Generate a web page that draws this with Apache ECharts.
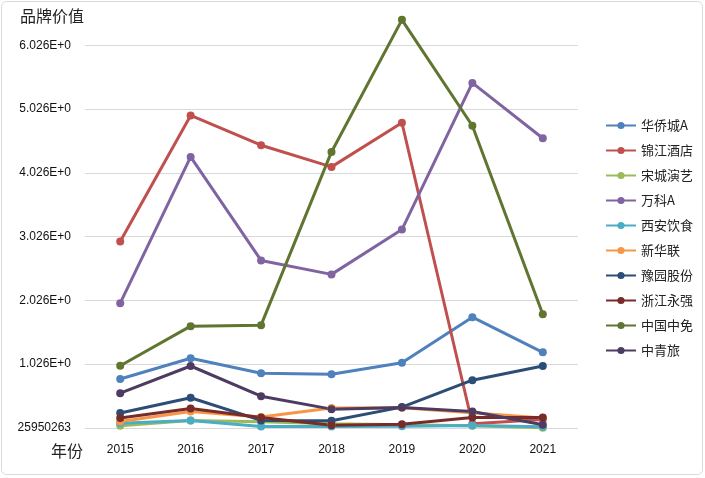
<!DOCTYPE html>
<html><head><meta charset="utf-8">
<script src="https://cdn.jsdelivr.net/npm/echarts@6/dist/echarts.min.js"></script>
<style>html,body{margin:0;padding:0;background:#fff}#c{width:705px;height:478px}</style>
</head><body><div id="c"></div>
<script>
// Values in units of 1E+9
const years = ['2015','2016','2017','2018','2019','2020','2021'];
const names = ['华侨城A','锦江酒店','宋城演艺','万科A','西安饮食','新华联','豫园股份','浙江永强','中国中免','中青旅'];
const hqc  = [0.796, 1.120, 0.885, 0.870, 1.051, 1.765, 1.213];
const jj   = [2.953, 4.932, 4.464, 4.124, 4.817, 0.093, 0.160];
const scyy = [0.062, 0.145, 0.125, 0.093, 0.078, 0.062, 0.030];
const wk   = [1.985, 4.281, 2.656, 2.437, 3.140, 5.442, 4.573];
const xays = [0.100, 0.145, 0.050, 0.050, 0.052, 0.067, 0.046];
const xhl  = [0.129, 0.286, 0.200, 0.340, 0.345, 0.265, 0.182];
const yygf = [0.260, 0.500, 0.145, 0.140, 0.354, 0.776, 0.999];
const zjyq = [0.182, 0.332, 0.190, 0.070, 0.085, 0.192, 0.190];
const zgzm = [1.004, 1.624, 1.640, 4.359, 6.432, 4.770, 1.810];
const zql  = [0.573, 0.999, 0.525, 0.322, 0.348, 0.286, 0.076];
const yTickLabels = ['25950263','1.026E+0','2.026E+0','3.026E+0','4.026E+0','5.026E+0','6.026E+0','7.026E+0'];
const yMin = 0.025950263, yInterval = 1;

const seriesData = [hqc, jj, scyy, wk, xays, xhl, yygf, zjyq, zgzm, zql];
const colors = ['#4F81BD','#C0504D','#9BBB59','#8064A2','#4BACC6','#F79646','#2C4D75','#772C2A','#5F7530','#4D3B62'];

const chart = echarts.init(document.getElementById('c'), null, {renderer:'canvas'});
chart.setOption({
  animation:false,
  color: colors,
  graphic: [
    {type:'rect', shape:{x:1.5,y:1.5,width:701,height:473,r:5}, style:{fill:'none',stroke:'#d9d9d9',lineWidth:1}, z:-1},
    {type:'text', left:20, top:8, z:10, style:{text:'品牌价值', font:'16px "Noto Sans CJK SC"', fill:'#222'}},
    {type:'text', left:51, top:443, z:10, style:{text:'年份', font:'16px "Noto Sans CJK SC"', fill:'#222'}}
  ],
  grid:{left:85, right:127, top:-18, bottom:50, outerBoundsMode:'none', containLabel:false},
  legend:{
    orient:'vertical', left:600, top:114, itemWidth:30, itemHeight:9, itemGap:12,
    textStyle:{fontSize:13, color:'#222', fontFamily:'"Noto Sans CJK SC"'},
    data: names
  },
  xAxis:{
    type:'category', data: years, boundaryGap:true,
    axisLine:{show:false}, axisTick:{show:false},
    axisLabel:{color:'#111', fontSize:12, margin:16, fontFamily:'"Liberation Sans", Arial'}
  },
  yAxis:{
    type:'value', min:yMin, max:yMin + 7*yInterval, interval:yInterval,
    axisLine:{show:false}, axisTick:{show:false},
    splitLine:{lineStyle:{color:'#d9d9d9', width:1}},
    axisLabel:{color:'#111', fontSize:12, margin:14, fontFamily:'"Liberation Sans", Arial',
      formatter:function(v){ return yTickLabels[Math.round((v - yMin)/yInterval)] || ''; }}
  },
  series: names.map((n,i)=>({
    name:n, type:'line', data: seriesData[i], symbol:'circle', symbolSize:8,
    lineStyle:{width:3, color:colors[i]}, itemStyle:{color:colors[i]}
  }))
});
</script></body></html>
